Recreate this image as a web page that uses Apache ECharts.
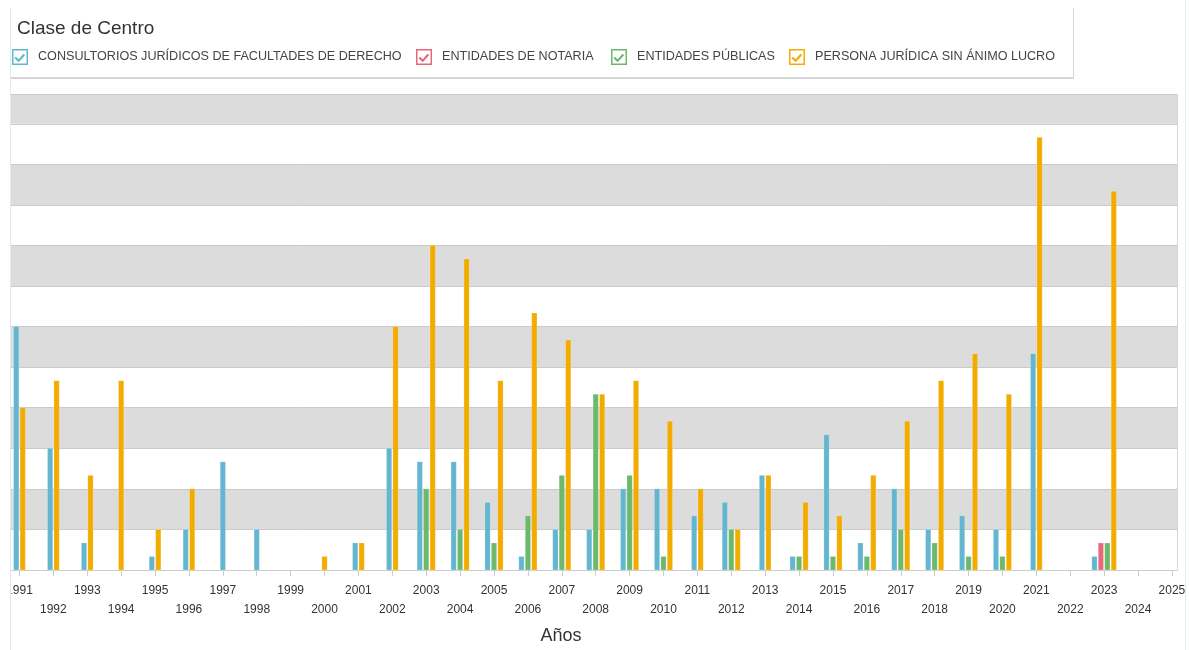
<!DOCTYPE html>
<html>
<head>
<meta charset="utf-8">
<title>Clase de Centro</title>
<script src="https://cdn.jsdelivr.net/npm/echarts@6/dist/echarts.min.js"></script>
<style>
  html, body { margin: 0; padding: 0; background: #fff; }
</style>
</head>
<body>
<div id="main" style="width: 1189px; height: 650px"></div>
<script>
// años del eje X
const years = [1991, 1992, 1993, 1994, 1995, 1996, 1997, 1998, 1999, 2000,
  2001, 2002, 2003, 2004, 2005, 2006, 2007, 2008, 2009, 2010,
  2011, 2012, 2013, 2014, 2015, 2016, 2017, 2018, 2019, 2020,
  2021, 2022, 2023, 2024, 2025]

const seriesNames = [
  'CONSULTORIOS JURÍDICOS DE FACULTADES DE DERECHO',
  'ENTIDADES DE NOTARIA',
  'ENTIDADES PÚBLICAS',
  'PERSONA JURÍDICA SIN ÁNIMO LUCRO'
]

const consultorios = [18, 9, 2, 0, 1, 3, 8, 3, 0, 0,
  2, 9, 8, 8, 5, 1, 3, 3, 6, 6,
  4, 5, 7, 1, 10, 2, 6, 3, 4, 3,
  16, 0, 1, 0, 0]
const notaria = [0, 0, 0, 0, 0, 0, 0, 0, 0, 0,
  0, 0, 0, 0, 0, 0, 0, 0, 0, 0,
  0, 0, 0, 0, 0, 0, 0, 0, 0, 0,
  0, 0, 2, 0, 0]
const publicas = [0, 0, 0, 0, 0, 0, 0, 0, 0, 0,
  0, 0, 6, 3, 2, 4, 7, 13, 7, 1,
  0, 3, 0, 1, 1, 1, 3, 2, 1, 1,
  0, 0, 2, 0, 0]
const personaJuridica = [12, 14, 7, 14, 3, 6, 0, 0, 0, 1,
  2, 18, 24, 23, 14, 19, 17, 13, 14, 11,
  6, 3, 7, 5, 4, 7, 11, 14, 16, 13,
  32, 0, 28, 0, 0]

const allValues = [consultorios, notaria, publicas, personaJuridica]
const colors = ['#63b6cf', '#e8687a', '#6cb86d', '#f2ac00']

const FONT = '"Liberation Sans", Arial, sans-serif'

// icono de casilla marcada para la leyenda
const checkIcon = 'path://M0 0H15V15H0Z M1.4 1.4V13.6H13.6V1.4Z ' +
  'M3.6 7.2L6.3 9.5L10.7 4.4L12.3 5.8L6.3 12.4L2.3 8.7Z'

// solo se dibujan las barras con valor, centradas en el año
function renderBar(params, api) {
  const year = api.value(0)
  const val = api.value(1)
  const i = years.indexOf(year)
  const active = []
  allValues.forEach(function(arr, s) {
    if (arr[i] > 0) active.push(s)
  })
  const k = active.indexOf(params.seriesIndex)
  const n = active.length
  const base = api.coord([year, 0])
  const top = api.coord([year, val])
  const unit = api.size([1, 0])[0]
  const pitch = unit * 0.19
  const barW = unit * 0.155
  const cx = base[0] + (k - (n - 1) / 2) * pitch
  return {
    type: 'rect',
    shape: { x: cx - barW / 2, y: top[1], width: barW, height: base[1] - top[1] },
    style: { fill: colors[params.seriesIndex], stroke: 'rgba(255,255,255,0.35)', lineWidth: 0.6 }
  }
}

// posición izquierda de cada casilla de la leyenda
const legendLefts = [12, 416, 611, 789]

const myChart = echarts.init(document.getElementById('main'), null, { renderer: 'canvas' })

const option = {
  backgroundColor: '#fff',
  animation: false,
  title: {
    text: 'Clase de Centro',
    left: 17,
    top: 19,
    padding: 0,
    textStyle: { fontFamily: FONT, fontSize: 19, fontWeight: 'normal', color: '#333' }
  },
  legend: seriesNames.map(function(name, s) {
    return {
      data: [name],
      left: legendLefts[s],
      top: 49,
      padding: 0,
      itemWidth: 16,
      itemHeight: 16,
      icon: checkIcon,
      selectedMode: false,
      textStyle: { fontFamily: FONT, fontSize: 12.6, color: '#444', padding: [3, 0, 0, 5] }
    }
  }),
  grid: {
    left: 11,
    right: 12,
    top: 94,
    bottom: 80,
    containLabel: false
  },
  xAxis: {
    type: 'value',
    min: 1990.75,
    max: 2025.15,
    name: 'Años',
    nameLocation: 'middle',
    nameGap: 57,
    nameTextStyle: { fontFamily: FONT, fontSize: 18, color: '#333', padding: [0, 66, 0, 0] },
    axisLine: { show: true, lineStyle: { color: '#cccccc', width: 1 } },
    axisTick: { show: true, customValues: years, length: 6, lineStyle: { color: '#cccccc' } },
    axisLabel: {
      customValues: years,
      margin: 11,
      lineHeight: 19,
      fontFamily: FONT,
      fontSize: 12,
      color: '#333',
      formatter: function(value) {
        return value % 2 === 1 ? String(value) : '\n' + value
      }
    },
    splitLine: { show: false }
  },
  yAxis: {
    type: 'value',
    min: 0,
    max: 35.2,
    interval: 3,
    axisLine: { show: false },
    axisTick: { show: false },
    axisLabel: { show: false },
    splitLine: { show: true, lineStyle: { color: '#cacaca', width: 1 } },
    splitArea: { show: true, areaStyle: { color: ['#ffffff', '#dcdcdc'] } }
  },
  series: seriesNames.map(function(name, s) {
    return {
      name: name,
      type: 'custom',
      renderItem: renderBar,
      itemStyle: { color: colors[s] },
      encode: { x: 0, y: 1 },
      data: years.map(function(y, i) { return [y, allValues[s][i]] })
        .filter(function(d) { return d[1] > 0 })
    }
  }),
  graphic: [
    // recorte del contenedor a la izquierda
    { type: 'rect', shape: { x: 0, y: 574, width: 11.5, height: 30 }, style: { fill: '#fff' }, z: 100 },
    { type: 'line', shape: { x1: 10.5, y1: 8, x2: 10.5, y2: 650 }, style: { stroke: '#d8eeee', lineWidth: 1 }, z: 101 },
    { type: 'line', shape: { x1: 1185.5, y1: 0, x2: 1185.5, y2: 650 }, style: { stroke: '#dff0f2', lineWidth: 1 }, z: 101 },
    // borde del panel de leyenda
    { type: 'line', shape: { x1: 1073.5, y1: 8, x2: 1073.5, y2: 78 }, style: { stroke: '#d3d3d3', lineWidth: 1 } },
    { type: 'line', shape: { x1: 11, y1: 78, x2: 1074, y2: 78 }, style: { stroke: '#d6d6d6', lineWidth: 2 } },
    // borde derecho del área de trazado
    { type: 'line', shape: { x1: 1177, y1: 94, x2: 1177, y2: 570 }, style: { stroke: '#d6d6d6', lineWidth: 2 } }
  ]
}

myChart.setOption(option)
</script>
</body>
</html>
